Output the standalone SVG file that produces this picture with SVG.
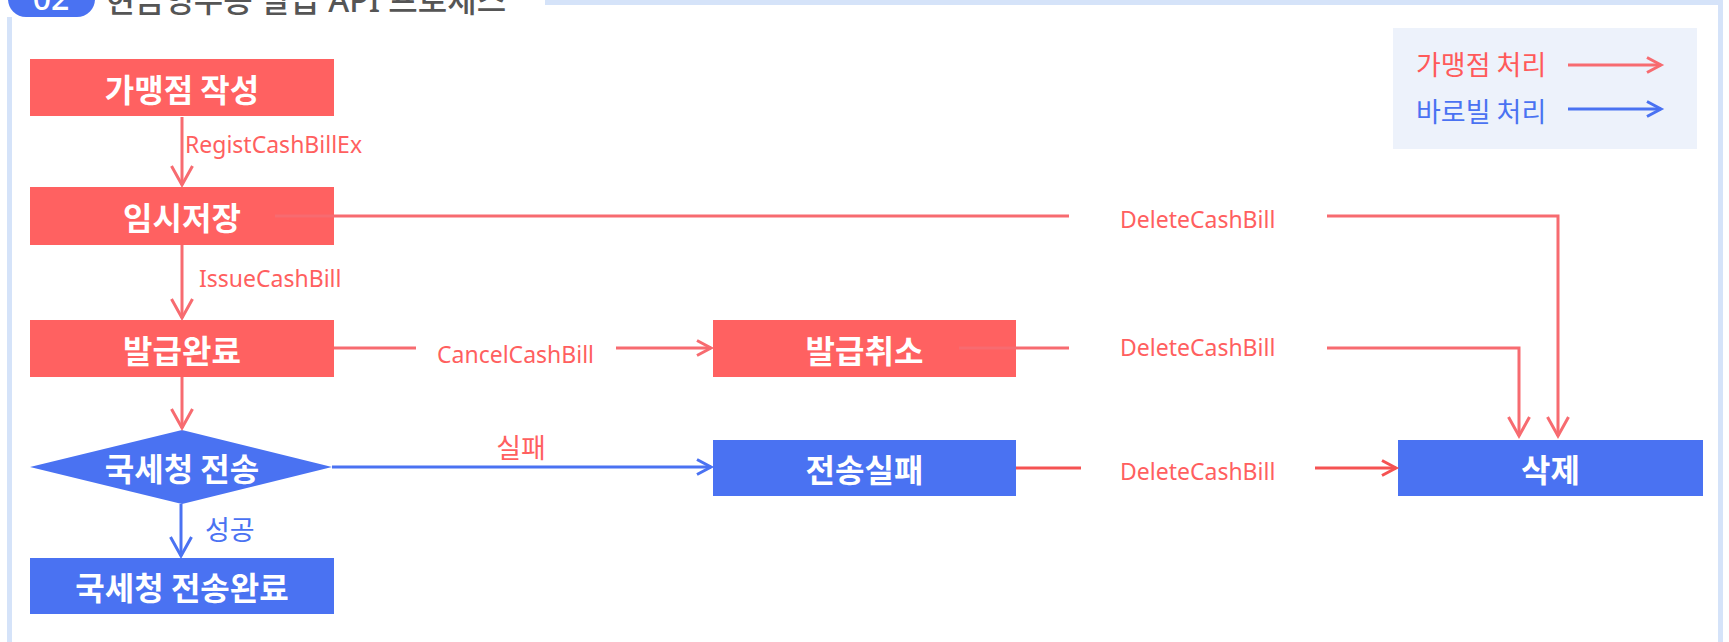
<svg xmlns="http://www.w3.org/2000/svg" width="1729" height="642" viewBox="0 0 1729 642">
<style>
  .box-r { fill: #ff6161; }
  .box-b { fill: #4a72f2; }
  .nlabel { font-family: "Noto Sans CJK KR", "Noto Sans", sans-serif; font-size: 32px; font-weight: 700; fill: #ffffff; text-anchor: middle; dominant-baseline: central; }
  .ln-r { fill: none; stroke: #f76b70; stroke-width: 3; }
  .ln-r2 { fill: none; stroke: #f55252; stroke-width: 3; }
  .ln-b { fill: none; stroke: #4a72f2; stroke-width: 3; }
  .elabel { font-family: "Noto Sans", "Noto Sans CJK KR", sans-serif; font-size: 23px; fill: #ff5f5f; }
  .klabel { font-family: "Noto Sans CJK KR", "Noto Sans", sans-serif; font-size: 27px; dominant-baseline: central; }
  .frame { fill: none; stroke: #d5e3f9; stroke-width: 5; }
</style>
<defs>
  <marker id="av-r" markerUnits="userSpaceOnUse" orient="auto" viewBox="-25 -15 30 30" markerWidth="30" markerHeight="30" refX="0" refY="0" overflow="visible">
    <path d="M-19 -10.5 L0 0 L-19 10.5" fill="none" stroke="#f76b70" stroke-width="3"/>
  </marker>
  <marker id="av-b" markerUnits="userSpaceOnUse" orient="auto" viewBox="-25 -15 30 30" markerWidth="30" markerHeight="30" refX="0" refY="0" overflow="visible">
    <path d="M-19 -10.5 L0 0 L-19 10.5" fill="none" stroke="#4a72f2" stroke-width="3"/>
  </marker>
  <marker id="ah-r" markerUnits="userSpaceOnUse" orient="auto" viewBox="-20 -10 25 20" markerWidth="25" markerHeight="20" refX="0" refY="0" overflow="visible">
    <path d="M-14 -7.5 L0 0 L-14 7.5" fill="none" stroke="#f76b70" stroke-width="3"/>
  </marker>
  <marker id="ah-r2" markerUnits="userSpaceOnUse" orient="auto" viewBox="-20 -10 25 20" markerWidth="25" markerHeight="20" refX="0" refY="0" overflow="visible">
    <path d="M-14 -7.5 L0 0 L-14 7.5" fill="none" stroke="#f55252" stroke-width="3"/>
  </marker>
  <marker id="ah-b" markerUnits="userSpaceOnUse" orient="auto" viewBox="-20 -10 25 20" markerWidth="25" markerHeight="20" refX="0" refY="0" overflow="visible">
    <path d="M-14 -7.5 L0 0 L-14 7.5" fill="none" stroke="#4a72f2" stroke-width="3"/>
  </marker>
</defs>
<rect x="0" y="0" width="1729" height="642" fill="#ffffff"/>

<g id="frame">
  <path class="frame" d="M9.5 17 V642 M545 2.5 H1720.5 M1720.5 0 V642"/>
</g>

<g id="title">
  <rect x="8" y="-40" width="87" height="57" rx="18" fill="#4a72f2"/>
  <text x="51" y="10" font-family="Noto Sans, sans-serif" font-size="32" font-weight="500" fill="#ffffff" text-anchor="middle">02</text>
  <text x="105.5" y="12" font-family="Noto Sans, Noto Sans CJK KR, sans-serif" font-size="32" font-weight="500" fill="#555555">현금영수증 발급 API 프로세스</text>
</g>

<g id="legend">
  <rect x="1393" y="28" width="304" height="121" fill="#edf2fb"/>
  <text x="1416" y="63" class="klabel" font-size="29" fill="#ff5a5a">가맹점 처리</text>
  <text x="1416" y="110" class="klabel" font-size="29" fill="#4a72f2">바로빌 처리</text>
  <path class="ln-r" d="M1568 65 H1661" marker-end="url(#ah-r)"/>
  <path class="ln-b" d="M1568 109 H1661" marker-end="url(#ah-b)"/>
</g>

<g id="node-write">
  <rect class="box-r" x="30" y="59" width="304" height="57"/>
  <text class="nlabel" x="182" y="87.5">가맹점 작성</text>
</g>
<g id="node-temp">
  <rect class="box-r" x="30" y="187" width="304" height="58"/>
  <text class="nlabel" x="182" y="216">임시저장</text>
</g>
<g id="node-issued">
  <rect class="box-r" x="30" y="320" width="304" height="57"/>
  <text class="nlabel" x="182" y="348.5">발급완료</text>
</g>
<g id="node-send">
  <polygon class="box-b" points="30,467 182,430 332,467 182,504"/>
  <text class="nlabel" x="182" y="467">국세청 전송</text>
</g>
<g id="node-sent">
  <rect class="box-b" x="30" y="558" width="304" height="56"/>
  <text class="nlabel" x="182" y="586">국세청 전송완료</text>
</g>
<g id="node-cancel">
  <rect class="box-r" x="713" y="320" width="303" height="57"/>
  <text class="nlabel" x="864.5" y="348.5">발급취소</text>
</g>
<g id="node-fail">
  <rect class="box-b" x="713" y="440" width="303" height="56"/>
  <text class="nlabel" x="864.5" y="468">전송실패</text>
</g>
<g id="node-delete">
  <rect class="box-b" x="1398" y="440" width="305" height="56"/>
  <text class="nlabel" x="1550.5" y="468">삭제</text>
</g>

<g id="connectors">
  <path class="ln-r" d="M182 117 V185" marker-end="url(#av-r)"/>
  <text class="elabel" x="185" y="153">RegistCashBillEx</text>

  <path class="ln-r" d="M182 245 V318" marker-end="url(#av-r)"/>
  <text class="elabel" x="199" y="287">IssueCashBill</text>

  <path class="ln-r" d="M182 377 V428" marker-end="url(#av-r)"/>

  <path class="ln-b" d="M181 504 V556" marker-end="url(#av-b)"/>
  <text class="klabel" x="205" y="528" fill="#4a72f2">성공</text>

  <path class="ln-b" d="M332 467 H711" marker-end="url(#ah-b)"/>
  <text class="klabel" x="521" y="446" fill="#ff5f5f" text-anchor="middle">실패</text>

  <path class="ln-r" d="M334 348 H416 M616 348 H711" marker-end="url(#ah-r)"/>
  <text class="elabel" x="437" y="363">CancelCashBill</text>

  <path class="ln-r" d="M275 216 H1069 M1327 216 H1558 V436" marker-end="url(#av-r)"/>
  <text class="elabel" x="1120" y="228">DeleteCashBill</text>

  <path class="ln-r" d="M959 348 H1069 M1327 348 H1519 V436" marker-end="url(#av-r)"/>
  <text class="elabel" x="1120" y="356">DeleteCashBill</text>

  <path class="ln-r2" d="M1016 468 H1081 M1315 468 H1396" marker-end="url(#ah-r2)"/>
  <text class="elabel" x="1120" y="480">DeleteCashBill</text>
</g>
</svg>
